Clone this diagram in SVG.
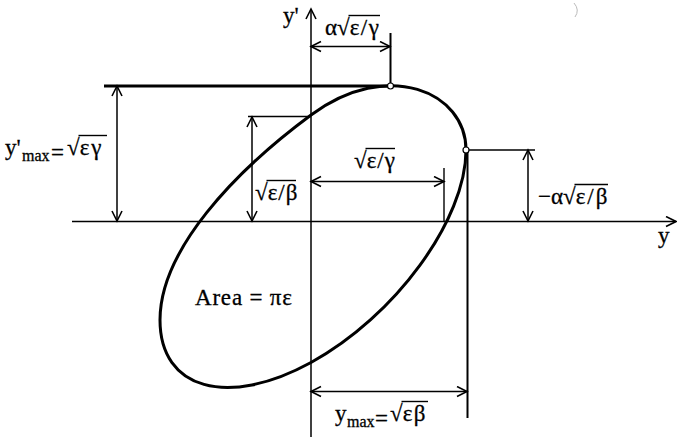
<svg xmlns="http://www.w3.org/2000/svg" width="677" height="437" viewBox="0 0 677 437">
  <style>
    .t { font-family: "Liberation Serif", "Times New Roman", serif; font-size: 23px; fill: #000; stroke: #000; stroke-width: 0.3; }
    .sub { font-size: 16px; }
    .ln { stroke: #000; stroke-width: 1.5; fill: none; }
    .thick { stroke: #000; stroke-width: 3; fill: none; }
    .ext { stroke: #000; stroke-width: 2; fill: none; }
    .dim { stroke: #000; stroke-width: 1.5; fill: none; marker-start: url(#arr); marker-end: url(#arr); }
    .bar { stroke: #000; stroke-width: 1.4; fill: none; }
    .pt { fill: #fff; stroke: #000; stroke-width: 1.2; }
  </style>
  <defs>
    <marker id="arr" markerUnits="userSpaceOnUse" markerWidth="14" markerHeight="14" refX="11" refY="6" orient="auto-start-reverse">
      <path d="M1,1 L11,6 L1,11" fill="none" stroke="#000" stroke-width="1.6"/>
    </marker>
  </defs>
  <rect width="677" height="437" fill="#fff"/>

  <g id="axes">
    <line class="ln" x1="311" y1="437" x2="311" y2="9" marker-end="url(#arr)"/>
    <line class="ln" x1="72" y1="221.5" x2="676" y2="221.5" marker-end="url(#arr)"/>
    <text class="t" x="283" y="23">y'</text>
    <text class="t" x="658" y="243">y</text>
  </g>

  <g id="ellipse">
    <path class="thick" d="M466,150 C466,219.6 395,316.6 311,362.5 C227,408.4 160,389.2 160,320 C160,250 234.6,171.5 311,115 C388,58 466,92 466,150 Z"/>
    <text class="t" x="195" y="305" font-size="25" letter-spacing="0.8">Area = πε</text>
  </g>

  <g id="connectors">
    <line class="thick" x1="104" y1="86" x2="390" y2="86"/>
    <line class="bar" x1="248" y1="116.5" x2="311" y2="116.5"/>
    <line class="ext" x1="390.5" y1="33" x2="390.5" y2="86"/>
    <line class="bar" x1="444" y1="168" x2="444" y2="221"/>
    <line class="bar" x1="466" y1="150" x2="535" y2="150"/>
    <line class="ext" x1="467.5" y1="150" x2="467.5" y2="418"/>
    <line class="dim" x1="117" y1="86" x2="117" y2="221"/>
    <line class="dim" x1="252" y1="117" x2="252" y2="221"/>
    <line class="dim" x1="311" y1="46.5" x2="390" y2="46.5"/>
    <line class="dim" x1="311" y1="181.5" x2="444" y2="181.5"/>
    <line class="dim" x1="528" y1="150" x2="528" y2="221"/>
    <line class="dim" x1="311" y1="391.5" x2="467" y2="391.5"/>
  </g>

  <g id="points">
    <circle class="pt" cx="390.5" cy="86" r="3"/>
    <circle class="pt" cx="466" cy="150" r="3"/>
  </g>

  <g id="label-ypmax">
    <text class="t" x="5" y="155">y'<tspan class="sub" x="22" y="161">max</tspan><tspan x="51" y="160">=</tspan><tspan x="67" y="155">√</tspan><tspan letter-spacing="2">εγ</tspan></text>
    <line class="bar" x1="78.5" y1="135.5" x2="107" y2="135.5"/>
  </g>

  <g id="label-alpha-top">
    <text class="t" x="325" y="35">α<tspan>√</tspan><tspan letter-spacing="1.5">ε/γ</tspan></text>
    <line class="bar" x1="348.5" y1="15.5" x2="380" y2="15.5"/>
  </g>

  <g id="label-eps-gamma">
    <text class="t" x="354" y="168">√<tspan letter-spacing="1">ε/γ</tspan></text>
    <line class="bar" x1="365.5" y1="148.5" x2="395" y2="148.5"/>
  </g>

  <g id="label-eps-beta">
    <text class="t" x="255" y="200">√<tspan letter-spacing="1">ε/β</tspan></text>
    <line class="bar" x1="266.5" y1="180.5" x2="296" y2="180.5"/>
  </g>

  <g id="label-alpha-right">
    <text class="t" x="538" y="204">−α<tspan>√</tspan><tspan letter-spacing="2">ε/β</tspan></text>
    <line class="bar" x1="574.5" y1="184.5" x2="608" y2="184.5"/>
  </g>

  <g id="label-ymax">
    <text class="t" x="335" y="421">y<tspan class="sub" x="347" y="427">max</tspan><tspan x="375" y="426">=</tspan><tspan x="390" y="421">√</tspan><tspan letter-spacing="1.5">εβ</tspan></text>
    <line class="bar" x1="401.5" y1="401.5" x2="428" y2="401.5"/>
  </g>

  <path d="M574,3 Q580,10 575,17" fill="none" stroke="#bbb" stroke-width="1"/>
</svg>
